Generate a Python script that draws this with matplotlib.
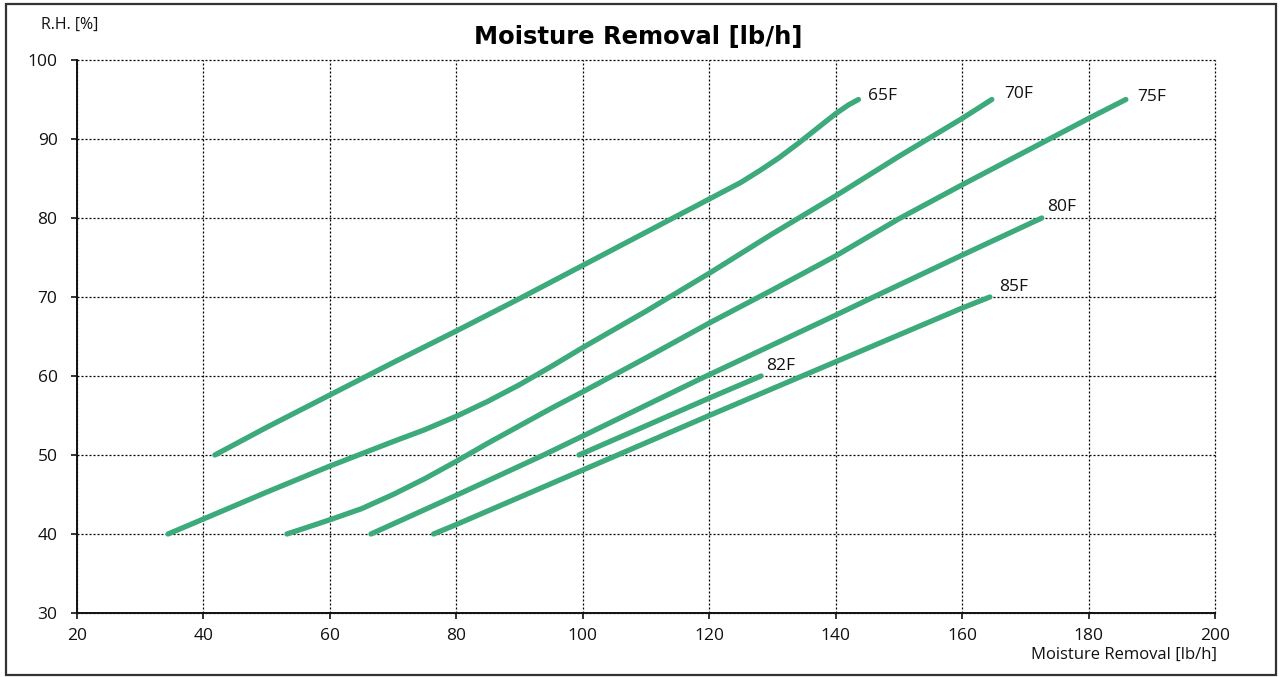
import matplotlib
matplotlib.use("Agg")
import matplotlib.pyplot as plt
from matplotlib.patches import Rectangle

# ---- data ----
x_ticks = [20, 40, 60, 80, 100, 120, 140, 160, 180, 200]
y_ticks = [30, 40, 50, 60, 70, 80, 90, 100]

c65_x = [41.8, 50, 60, 70, 80, 90, 100, 110, 115, 120, 125, 128, 131, 134, 137, 140, 142, 143.6]
c65_y = [50.0, 53.5, 57.6, 61.7, 65.7, 69.8, 74.0, 78.2, 80.3, 82.4, 84.5, 86.0, 87.6, 89.4, 91.3, 93.2, 94.3, 95.0]

c70_x = [34.4, 40, 50, 60, 70, 75, 80, 85, 90, 95, 100, 105, 110, 115, 120, 125, 130, 135, 140, 145, 150, 155, 160, 164.7]
c70_y = [40.0, 41.9, 45.3, 48.6, 51.7, 53.2, 54.9, 56.8, 58.9, 61.2, 63.6, 65.9, 68.2, 70.6, 73.0, 75.5, 78.0, 80.4, 82.8, 85.3, 87.8, 90.2, 92.6, 95.0]

c75_x = [53.2, 57, 60, 65, 70, 75, 80, 85, 90, 95, 100, 110, 120, 130, 140, 150, 160, 170, 180, 185.9]
c75_y = [40.0, 41.0, 41.8, 43.2, 45.0, 47.0, 49.2, 51.5, 53.7, 55.9, 58.0, 62.3, 66.7, 70.9, 75.2, 79.9, 84.2, 88.4, 92.6, 95.0]

c80_x = [66.5, 80, 93.8, 100, 118.5, 140, 146, 160, 172.6]
c80_y = [40.0, 44.9, 50.0, 52.4, 59.6, 67.7, 70.0, 75.3, 80.0]

c82_x = [99.4, 110, 120, 128.2]
c82_y = [50.0, 53.7, 57.2, 60.0]

c85_x = [76.4, 80, 100, 120, 140, 160, 164.4]
c85_y = [40.0, 41.2, 48.1, 55.0, 61.8, 68.6, 70.0]

curve_names = ["65F", "70F", "75F", "80F", "82F", "85F"]
curve_xs = [c65_x, c70_x, c75_x, c80_x, c82_x, c85_x]
curve_ys = [c65_y, c70_y, c75_y, c80_y, c82_y, c85_y]

title = "Moisture Removal [lb/h]"
x_label = "Moisture Removal [lb/h]"
y_label = "R.H. [%]"

# label offsets in pixels (styling)
label_offsets = [(10, 4), (12, 6), (11, 3), (5, 11), (5, 10), (9, 10)]

# ---- styling ----
plt.rcParams['font.family'] = ['Open Sans', 'DejaVu Sans']
W, H = 1282, 677
fig = plt.figure(figsize=(W / 100, H / 100), dpi=100)
ax = fig.add_axes([77 / W, 1 - 613 / H, (1215 - 77) / W, (613 - 60) / H])

green = '#3DAA7B'
for name, xs, ys, off in zip(curve_names, curve_xs, curve_ys, label_offsets):
    ax.plot(xs, ys, color=green, lw=3.8, solid_capstyle='round',
            solid_joinstyle='round', zorder=3)
    ax.annotate(name, xy=(xs[-1], ys[-1]), xytext=off,
                textcoords='offset pixels', ha='left', va='center',
                fontsize=12.5, color='#111111', zorder=4)

ax.set_xlim(20, 200)
ax.set_ylim(30, 100)
ax.set_xticks(x_ticks)
ax.set_yticks(y_ticks)
ax.tick_params(direction='out', length=4, width=1.2, labelsize=12.5,
               colors='#111111')
ax.tick_params(axis='y', pad=10)
ax.tick_params(axis='x', pad=7)
ax.grid(True, color='black', linestyle=(0, (1.6, 1.6)), linewidth=0.9)
for gl in ax.get_xgridlines() + ax.get_ygridlines():
    gl.set_clip_on(False)
ax.set_axisbelow(True)
for s in ['top', 'right']:
    ax.spines[s].set_visible(False)
for s in ['left', 'bottom']:
    ax.spines[s].set_linewidth(1.4)
    ax.spines[s].set_color('#111111')
    ax.spines[s].set_zorder(2.5)

fig.text(638 / W, 1 - 37 / H, title, ha='center', va='center',
         fontsize=17.5, fontweight='heavy', family=['DejaVu Sans'], color='black')
fig.text(41 / W, 1 - 25 / H, y_label, ha='left', va='center', fontsize=11.5,
         color='#111111')
fig.text(1217 / W, 1 - 655 / H, x_label, ha='right', va='center', fontsize=12,
         color='#111111')

fig.patches.append(Rectangle((6 / W, 2 / H), (1276 - 6) / W, (673 - 2) / H,
                             transform=fig.transFigure, fill=False,
                             edgecolor='#333333', linewidth=1.6))

fig.savefig('out.png', dpi=100)
